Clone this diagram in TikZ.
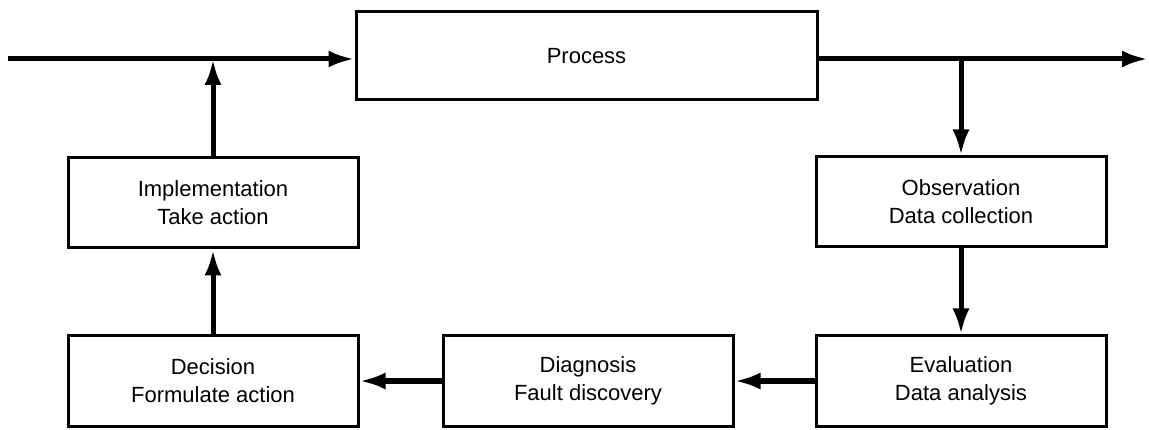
\documentclass[tikz,border=0pt]{standalone}
\usepackage{fontspec}
\setmainfont{Liberation Sans}
\usetikzlibrary{arrows.meta}
\begin{document}
\begin{tikzpicture}[x=1pt, y=-1pt, >={Latex[length=26pt, width=17pt]},
          font=\fontsize{22}{28}\selectfont,
          blk/.style={draw, line width=3pt, minimum width=290pt, minimum height=90pt,
                      align=center, inner sep=0pt},
          flow/.style={line width=5pt}]
        \useasboundingbox (0,0) rectangle (1149,430);
        \node[blk, minimum width=461pt, minimum height=88pt] (proc) at (586.5,56) {Process};
        \node[blk] (impl) at (213,203) {Implementation\\Take action};
        \node[blk] (obs) at (961,202) {Observation\\Data collection};
        \node[blk] (eval) at (961,381) {Evaluation\\Data analysis};
        \node[blk] (diag) at (588,381) {Diagnosis\\Fault discovery};
        \node[blk] (deci) at (213,381) {Decision\\Formulate action};
        % The main line runs through the process; the loop taps it on both sides.
        \coordinate (src) at (8,59);
        \coordinate (sink) at (1148,59);
        \draw[flow, ->] (src) -- (src -| proc.west);
        \draw[flow, ->] (src -| proc.east) -- (sink);
        \draw[flow, ->] (obs.north |- sink) -- (obs);
        \draw[flow, ->] (obs) -- (eval);
        \draw[flow, ->] (eval) -- (diag);
        \draw[flow, ->] (diag) -- (deci);
        \draw[flow, ->] (deci) -- (impl);
        \draw[flow, ->] (impl) -- (impl.north |- src);
\end{tikzpicture}
\end{document}
